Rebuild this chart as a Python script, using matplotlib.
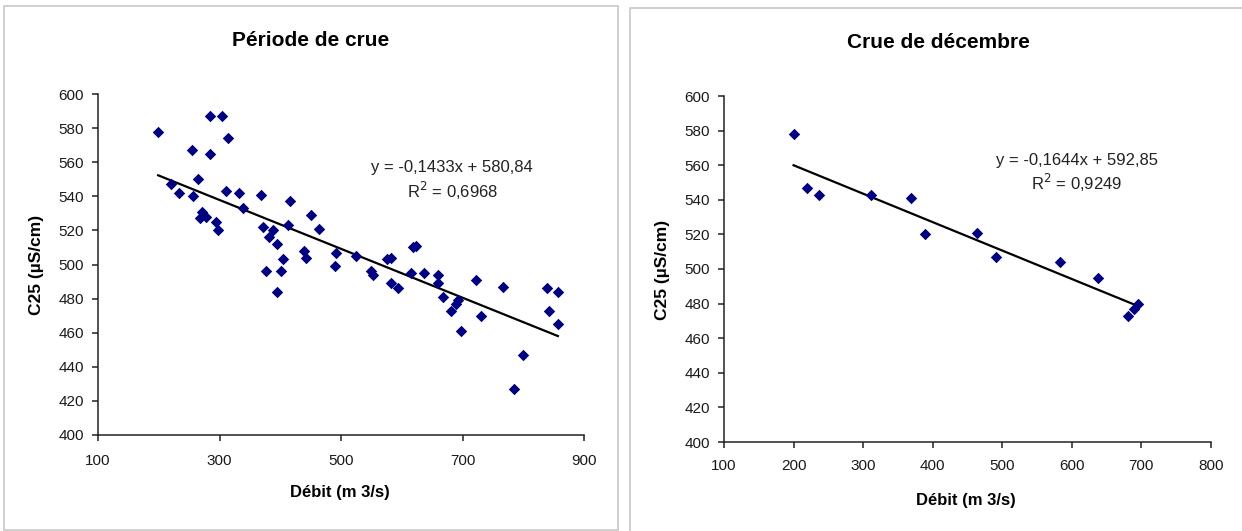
import numpy as np
import matplotlib.pyplot as plt
from matplotlib.patches import Rectangle

plt.rcParams['font.family'] = ['Liberation Sans', 'DejaVu Sans']

# Période de crue
debit_crue = [199, 220, 233, 255, 256, 264, 268, 272, 277, 285, 285, 294, 297,
              304, 311, 314, 332, 338, 368, 372, 376, 381, 388, 394, 394, 402,
              404, 413, 416, 439, 443, 450, 463, 490, 492, 525, 550, 552, 575,
              583, 583, 594, 615, 619, 624, 637, 659, 660, 668, 681, 690, 693,
              697, 722, 730, 766, 784, 799, 839, 842, 857, 857]
c25_crue = [578, 547, 542, 567, 540, 550, 527, 531, 528, 587, 565, 525, 520,
            587, 543, 574, 542, 533, 541, 522, 496, 516, 520, 512, 484, 496,
            503, 523, 537, 508, 504, 529, 521, 499, 507, 505, 496, 494, 503,
            504, 489, 486, 495, 510, 511, 495, 494, 489, 481, 473, 477, 479,
            461, 491, 470, 487, 427, 447, 486, 473, 484, 465]
pente_crue, origine_crue, r2_crue = -0.1433, 580.84, 0.6968

# Crue de décembre
debit_dec = [200, 220, 236, 312, 369, 389, 464, 491, 583, 638, 680, 690, 695]
c25_dec = [578, 547, 543, 543, 541, 520, 521, 507, 504, 495, 473, 477, 480]
pente_dec, origine_dec, r2_dec = -0.1644, 592.85, 0.9249

W, H = 1242, 531
fig = plt.figure(figsize=(W / 100, H / 100), dpi=100)

# cadres gris des deux graphiques
for x0, y0, x1, y1 in [(4, 6, 618, 530), (630, 8, 1250, 540)]:
    fig.patches.append(Rectangle((x0 / W, 1 - y1 / H), (x1 - x0) / W, (y1 - y0) / H,
                                 transform=fig.transFigure, fill=False,
                                 edgecolor='#c8c8c8', linewidth=1.2))


def fr(v):
    return f'{v}'.replace('.', ',')


def panneau(rect, x, y, pente, origine, r2, xlim, xticks, titre, titre_pos,
            xlab_pos, ylab_pos, eq_pos, xpad):
    ax = fig.add_axes(rect)
    ax.scatter(x, y, marker='D', s=34, color='#000080', zorder=3, linewidths=0)
    xl = np.array([min(x), max(x)])
    ax.plot(xl, pente * xl + origine, color='black', linewidth=1.6, zorder=2)
    ax.set_xlim(*xlim)
    ax.set_ylim(400, 600)
    ax.set_xticks(xticks)
    ax.set_yticks(range(400, 601, 20))
    for s in ['top', 'right']:
        ax.spines[s].set_visible(False)
    for s in ['left', 'bottom']:
        ax.spines[s].set_linewidth(1.1)
        ax.spines[s].set_color('#222222')
    ax.tick_params(direction='out', length=4, width=1.1, labelsize=11,
                   colors='#222222', labelcolor='#1a1a1a')
    ax.tick_params(axis='y', pad=6)
    ax.tick_params(axis='x', pad=xpad)
    ax.text(eq_pos[0], eq_pos[1], f'y = {fr(pente)}x + {fr(origine)}',
            ha='center', va='center', fontsize=12, color='#222222')
    ax.text(eq_pos[0], eq_pos[2], f'R$^2$ = {fr(r2)}',
            ha='center', va='center', fontsize=12, color='#222222')
    fig.text(titre_pos[0] / W, 1 - titre_pos[1] / H, titre, ha='center',
             va='center', fontsize=15, fontweight='bold')
    fig.text(xlab_pos[0] / W, 1 - xlab_pos[1] / H, 'Débit (m 3/s)', ha='center',
             va='center', fontsize=12, fontweight='bold')
    fig.text(ylab_pos[0] / W, 1 - ylab_pos[1] / H, 'C25 (µS/cm)', ha='center',
             va='center', fontsize=12.5, fontweight='bold', rotation=90)
    return ax


panneau([98 / W, 1 - 435 / H, 486 / W, 341 / H], debit_crue, c25_crue,
        pente_crue, origine_crue, r2_crue, (100, 900), range(100, 901, 200),
        'Période de crue', (311, 41), (340, 493), (37, 265), (683, 557, 543), 10)

panneau([724 / W, 1 - 442 / H, 487 / W, 346 / H], debit_dec, c25_dec,
        pente_dec, origine_dec, r2_dec, (100, 800), range(100, 801, 100),
        'Crue de décembre', (938, 42), (966, 500), (663, 270), (607, 563, 550), 8)

fig.savefig('out.png', dpi=100, facecolor='white')
